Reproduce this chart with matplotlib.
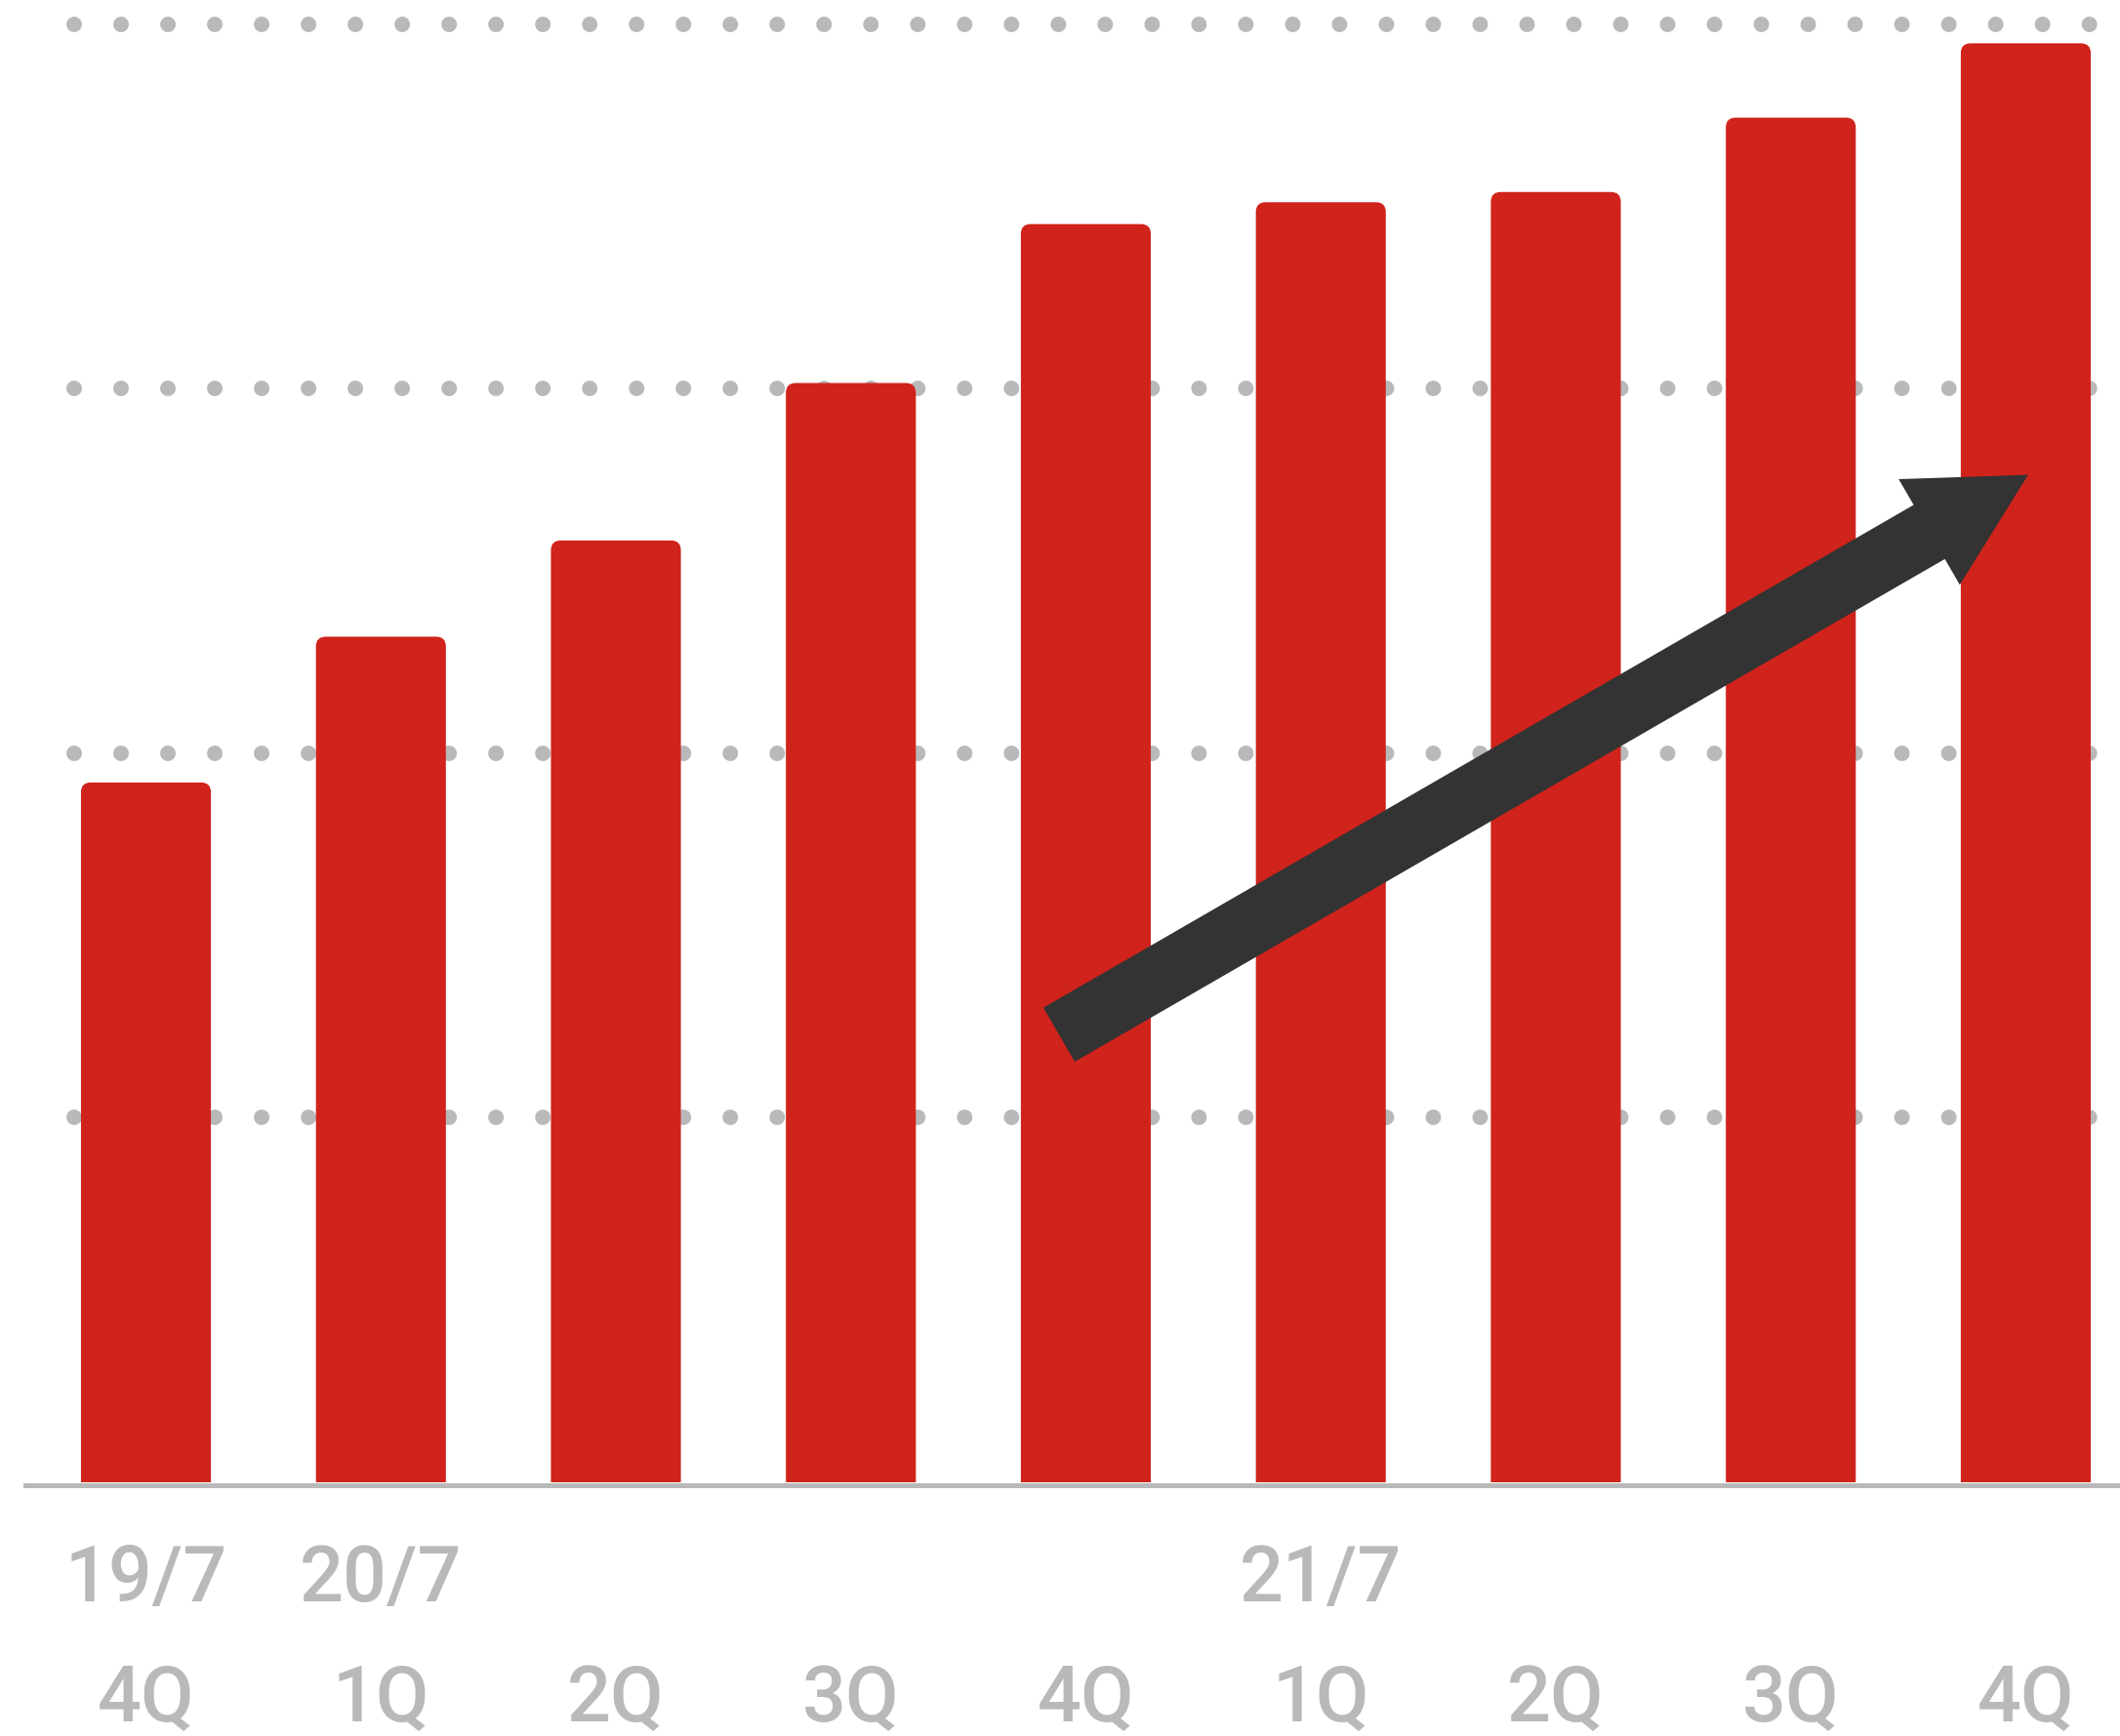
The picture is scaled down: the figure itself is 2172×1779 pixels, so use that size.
import matplotlib
matplotlib.use("Agg")
import matplotlib.pyplot as plt
from matplotlib.patches import FancyBboxPatch

# data (grid step = 25)
quarters = ['4Q', '1Q', '2Q', '3Q', '4Q', '1Q', '2Q', '3Q', '4Q']
year_labels = ['19/7', '20/7', '', '', '', '21/7', '', '', '']
values = [48.0, 58.0, 64.6, 75.4, 86.3, 87.8, 88.5, 93.6, 98.7]
grid_levels = [25, 50, 75, 100]

# trend arrow (tail -> tip), data coords
arrow_tail = (3.886, 30.7)
arrow_tip = (8.010, 69.1)

bar_color = '#d0231b'
grey = '#b9b9b9'
dark = '#333333'

W, H = 2172, 1779
fig = plt.figure(figsize=(W / 100, H / 100), dpi=100)
ax = fig.add_axes([26 / W, (H - 1519) / H, 1 - 26 / W, 1519 / H])
ax.set_xlim(-0.513, 8.401)
ax.set_ylim(0, 101.67)
ax.axis('off')

px = 72 / 100  # points per pixel

# dotted grid lines
for g in grid_levels:
    ax.plot([-0.305, 8.275], [g, g], color=grey, lw=16 * px,
            linestyle=(0, (0.001, 3.0)), dash_capstyle='round',
            zorder=1, clip_on=False)

# bars with rounded top corners (bottom corners pushed below the axes and clipped)
x = list(range(len(values)))
bw = 0.553
r_x = 10 / 240.75
r_y = 10 / 373.5 * 25
for xi, v in zip(x, values):
    box = FancyBboxPatch((xi - bw / 2, -2 * r_y), bw, v + 2 * r_y,
                         boxstyle='round,pad=0,rounding_size=%f' % r_x,
                         mutation_aspect=r_y / r_x,
                         facecolor=bar_color, edgecolor='none', zorder=2)
    ax.add_patch(box)

# baseline
ax.axhline(-0.17, color=grey, lw=5 * px, zorder=3, clip_on=False)

# arrow
ax.annotate('', xy=arrow_tip, xytext=arrow_tail,
            arrowprops=dict(arrowstyle='simple,head_length=%f,head_width=%f,tail_width=%f'
                            % (117 * px, 125 * px, 64 * px),
                            mutation_scale=1, color=dark, shrinkA=0, shrinkB=0,
                            linewidth=0),
            zorder=4)

# labels
fnt = dict(family=['Roboto', 'DejaVu Sans'], fontsize=57,
           color=grey, fontweight='medium', ha='center', va='center')
for xi, q, yl in zip(x, quarters, year_labels):
    ax.text(xi, -14.9, q, clip_on=False, **fnt)
    if yl:
        ax.text(xi, -6.7, yl, clip_on=False, **fnt)

fig.savefig('out.png', dpi=100)
